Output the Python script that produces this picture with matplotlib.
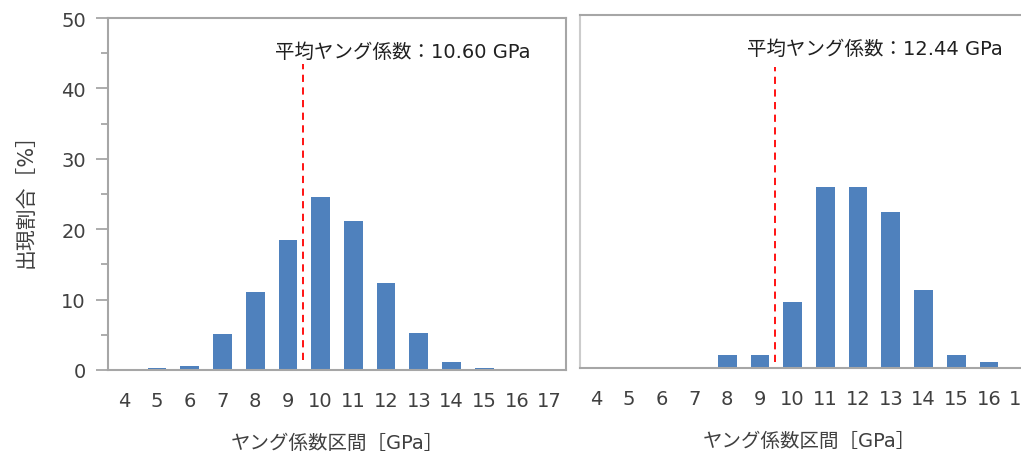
import matplotlib
matplotlib.use("Agg")
import matplotlib.pyplot as plt
from matplotlib.ticker import MultipleLocator

# ---- data ----
categories = ["4", "5", "6", "7", "8", "9", "10", "11", "12", "13", "14", "15", "16", "17"]
left_values = [0.0, 0.25, 0.5, 5.1, 11.1, 18.5, 24.6, 21.1, 12.3, 5.3, 1.2, 0.25, 0.0, 0.0]
right_values = [0.0, 0.0, 0.0, 0.0, 1.85, 1.85, 9.3, 25.7, 25.7, 22.1, 11.1, 1.85, 0.9, 0.0]
mean_labels = ["平均ヤング係数：10.60 GPa", "平均ヤング係数：12.44 GPa"]
mean_line_pos = [5.45, 5.45]          # position on category axis (index units)
mean_line_span = [(1.4, 43.5), (0.9, 42.6)]
y_ticks = [0, 10, 20, 30, 40, 50]
xlabel = "ヤング係数区間［GPa］"
ylabel = "出現割合［%］"

FONT = ["DejaVu Sans", "Noto Sans CJK JP"]
plt.rcParams["font.family"] = FONT

BAR = "#4f81bd"
TXT = "#404040"
SPINE = "#a6a6a6"

W, H = 1021, 456
fig = plt.figure(figsize=(W / 100, H / 100), dpi=100)

axL = fig.add_axes([108 / W, (H - 371) / H, 458 / W, 352 / H])
axR = fig.add_axes([580 / W, (H - 369) / H, 458 / W, 353 / H])

x = list(range(len(categories)))
for ax, vals, lab, lpos, span in [(axL, left_values, mean_labels[0], mean_line_pos[0], mean_line_span[0]),
                                   (axR, right_values, mean_labels[1], mean_line_pos[1], mean_line_span[1])]:
    ax.bar(x, vals, width=0.57, color=BAR, zorder=2)
    ax.set_xlim(-0.5, len(categories) - 0.5)
    ax.set_ylim(0, 50)
    ax.set_xticks(x)
    ax.set_xticklabels(categories, fontsize=14, color=TXT)
    ax.tick_params(axis="x", length=0, pad=15)
    ax.plot([lpos, lpos], span, color="#ff0000", linestyle=(0, (4, 3)), linewidth=1.3, zorder=3)
    ax.text(lpos - 0.86, 45.3, lab, fontsize=14, color="#202020", ha="left", va="center",
            family=FONT)
    ax.set_xlabel(xlabel, fontsize=14, color=TXT, labelpad=17, family=FONT)
    for s in ax.spines.values():
        s.set_color(SPINE)
        s.set_linewidth(1.5)

axL.set_yticks(y_ticks)
axL.set_yticklabels([str(v) for v in y_ticks], fontsize=14, color=TXT)
axL.yaxis.set_minor_locator(MultipleLocator(5))
axL.tick_params(axis="y", which="major", length=9, width=1.3, color=SPINE, pad=7)
axL.tick_params(axis="y", which="minor", length=5, width=1.3, color=SPINE)
axL.set_ylabel(ylabel, fontsize=15, color=TXT, labelpad=18, family=FONT)

axR.set_yticks([])
axR.spines["left"].set_color("#cccccc")

fig.savefig("out.png", dpi=100)
